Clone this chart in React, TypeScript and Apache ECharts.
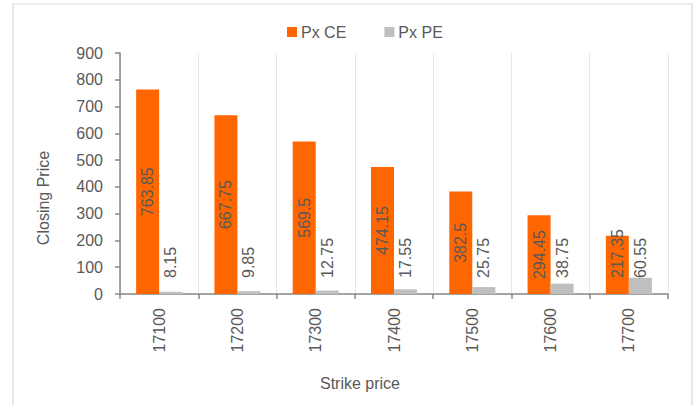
import React, { useEffect, useRef } from "react";
import * as echarts from "echarts";

const categories = ["17100", "17200", "17300", "17400", "17500", "17600", "17700"];
const pxCE = [763.85, 667.75, 569.5, 474.15, 382.5, 294.45, 217.35];
const pxPE = [8.15, 9.85, 12.75, 17.55, 25.75, 38.75, 60.55];
const seriesNames = ["Px CE", "Px PE"];
const yTitle = "Closing Price";
const xTitle = "Strike price";

const FONT = "'Liberation Sans', Arial, sans-serif";
const TXT = "#595959";

export default function App() {
  const ref = useRef<HTMLDivElement>(null);
  useEffect(() => {
    if (!ref.current) return;
    const chart = echarts.init(ref.current, null, { renderer: "svg" });
    const insideBottomLabel = {
      show: true,
      position: "insideBottom",
      distance: 16,
      rotate: 90,
      align: "left",
      verticalAlign: "middle",
      color: TXT,
      fontSize: 16,
      fontFamily: FONT,
    };
    chart.setOption({
      animation: false,
      textStyle: { fontFamily: FONT },
      graphic: [
        {
          type: "rect",
          shape: { x: 13, y: 4, width: 679, height: 420 },
          style: { fill: "none", stroke: "#d9d9d9", lineWidth: 1.2 },
          silent: true,
        },
        {
          type: "text",
          x: 43,
          y: 198,
          rotation: Math.PI / 2,
          style: {
            text: yTitle,
            fill: TXT,
            fontSize: 16,
            fontFamily: FONT,
            align: "center",
            verticalAlign: "middle",
          },
        },
        {
          type: "text",
          x: 360,
          y: 383,
          style: {
            text: xTitle,
            fill: TXT,
            fontSize: 16,
            fontFamily: FONT,
            align: "center",
            verticalAlign: "middle",
          },
        },
      ],
      legend: {
        data: seriesNames,
        left: 287,
        top: 24,
        padding: 0,
        icon: "rect",
        itemWidth: 10,
        itemHeight: 10,
        itemGap: 38,
        textStyle: { color: TXT, fontSize: 16, fontFamily: FONT, padding: [0, 0, 0, -1] },
      },
      grid: { left: 120, right: 29, top: 53, bottom: 111 },
      xAxis: {
        type: "category",
        data: categories,
        axisLine: { lineStyle: { color: "#868686", width: 1.5 } },
        axisTick: { show: true, length: 5, lineStyle: { color: "#868686", width: 1.5 } },
        splitLine: { show: true, lineStyle: { color: "#e8e8e8", width: 1 } },
        axisLabel: {
          rotate: 90,
          margin: 14,
          color: TXT,
          fontSize: 16,
          fontFamily: FONT,
        },
      },
      yAxis: {
        type: "value",
        min: 0,
        max: 900,
        interval: 100,
        axisLine: { show: true, lineStyle: { color: "#868686", width: 1.5 } },
        axisTick: { show: true, length: 5, lineStyle: { color: "#868686", width: 1.5 } },
        splitLine: { show: false },
        axisLabel: { margin: 17, color: TXT, fontSize: 16, fontFamily: FONT },
      },
      series: [
        {
          name: seriesNames[0],
          type: "bar",
          barWidth: 23,
          barGap: "0%",
          itemStyle: { color: "#ff6600" },
          label: {
            show: true,
            position: "inside",
            rotate: 90,
            color: TXT,
            fontSize: 16,
            fontFamily: FONT,
          },
          data: pxCE.map((v, i) =>
            i === pxCE.length - 1 ? { value: v, label: insideBottomLabel } : v
          ),
        },
        {
          name: seriesNames[1],
          type: "bar",
          barWidth: 23,
          barGap: "0%",
          itemStyle: { color: "#bfbfbf" },
          label: insideBottomLabel,
          data: pxPE,
        },
      ],
    });
    return () => chart.dispose();
  }, []);
  return (
    <div
      ref={ref}
      style={{ position: "fixed", left: 0, top: 0, width: 697, height: 405, background: "#fff" }}
    />
  );
}
